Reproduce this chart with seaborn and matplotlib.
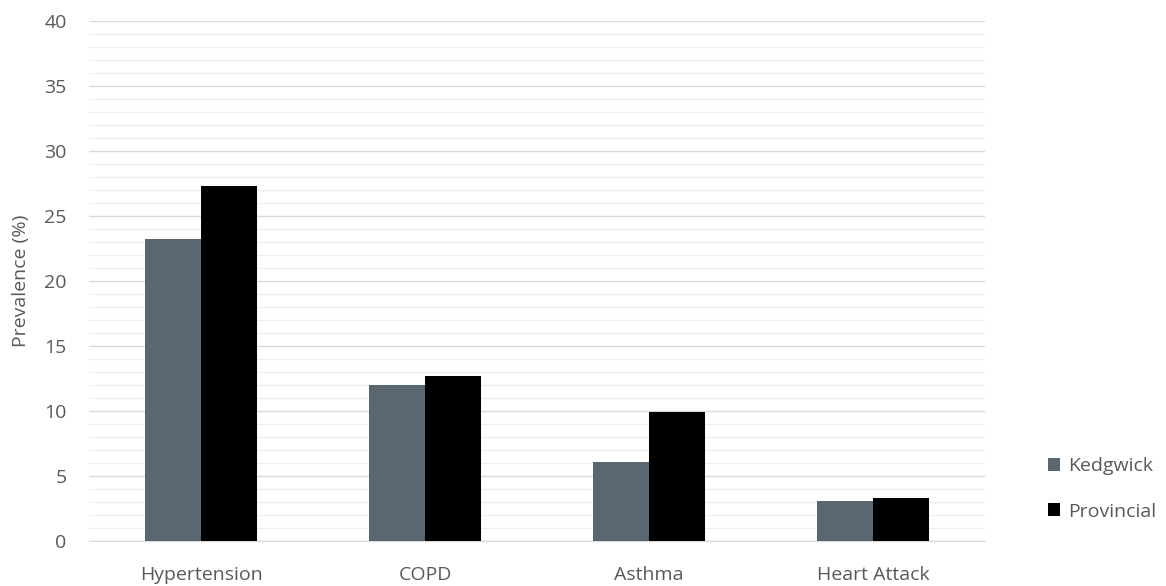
import pandas as pd
import matplotlib.pyplot as plt
import seaborn as sns
from matplotlib.ticker import MultipleLocator

# chart data
conditions = ['Hypertension', 'COPD', 'Asthma', 'Heart Attack']
kedgwick = [23.2, 12.0, 6.1, 3.1]
provincial = [27.3, 12.7, 9.9, 3.3]
series = ['Kedgwick', 'Provincial']
y_ticks = [0, 5, 10, 15, 20, 25, 30, 35, 40]


def build_df():
    rows = []
    for cond, k, p in zip(conditions, kedgwick, provincial):
        rows.append({'Condition': cond, 'Area': series[0], 'Prevalence': k})
        rows.append({'Condition': cond, 'Area': series[1], 'Prevalence': p})
    return pd.DataFrame(rows)


def plot_prevalence(data_df):
    sns.set_style('white')
    plt.rcParams['font.family'] = ['Open Sans', 'DejaVu Sans']
    fig = plt.figure(figsize=(11.66, 5.86), dpi=100)
    ax = fig.add_axes([0.0763, 0.0768, 0.7687, 0.8872])

    # draw grouped bars
    sns.barplot(data=data_df, x='Condition', y='Prevalence', hue='Area',
                order=conditions, hue_order=series,
                palette=['#5a6670', '#000000'], width=0.5, gap=0,
                saturation=1, linewidth=0, edgecolor='none',
                ax=ax, zorder=3)

    ax.set_ylim(0, 40)
    ax.set_yticks(y_ticks)
    ax.yaxis.set_minor_locator(MultipleLocator(1))
    ax.grid(axis='y', which='major', color='#d9d9d9', linewidth=1.0, zorder=0)
    ax.grid(axis='y', which='minor', color='#f0f0f0', linewidth=1.0, zorder=0)
    ax.set_axisbelow(True)
    for side in ['top', 'right', 'left']:
        ax.spines[side].set_visible(False)
    ax.spines['bottom'].set_color('#d9d9d9')
    ax.tick_params(axis='both', which='both', length=0, labelsize=14,
                   labelcolor='#595959')
    ax.tick_params(axis='x', pad=18)
    ax.tick_params(axis='y', pad=16)
    ax.set_xlabel('')
    ax.set_ylabel('Prevalence (%)', fontsize=14, color='#595959', labelpad=10)

    # legend on the right
    handles, labels = ax.get_legend_handles_labels()
    ax.legend(handles, labels, loc='center left', bbox_to_anchor=(1.05, 0.10),
              frameon=False, fontsize=14, labelcolor='#595959',
              handlelength=0.65, handleheight=0.65, handletextpad=0.4,
              labelspacing=1.4)

    plt.savefig('out.png', dpi=100)
    plt.close()


if __name__ == '__main__':
    df = build_df()
    plot_prevalence(df)
